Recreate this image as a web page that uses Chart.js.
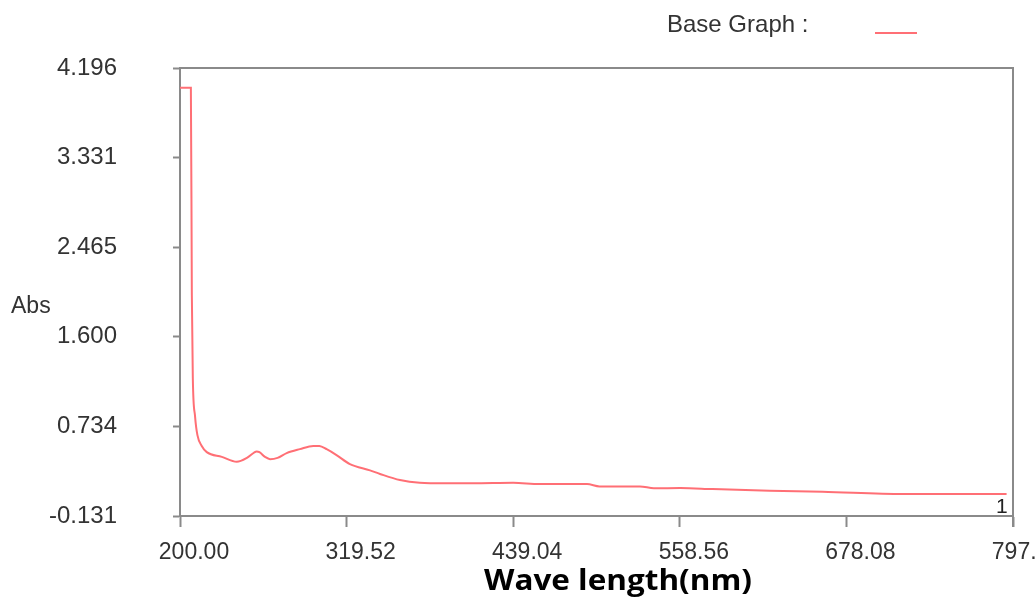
<!DOCTYPE html>
<html>
<head>
<meta charset="utf-8">
<script src="https://cdn.jsdelivr.net/npm/chart.js@4/dist/chart.umd.min.js"></script>
<style>
html,body{margin:0;padding:0;background:#fff;overflow:hidden;}
#wrap{width:1036px;height:603px;position:relative;}
</style>
</head>
<body>
<div id="wrap"><canvas id="c" width="1036" height="603"></canvas></div>
<script>
// Wavelength (nm) and absorbance
const wavelengths = [200, 207.8, 208.5, 209.2, 210.8, 212.5, 215.6, 219.2, 230, 240.7, 248, 253, 255, 257, 261, 264.6, 270, 276.5, 286, 295.6, 300, 305.2, 312, 321.9, 336.3, 343.5, 357.8, 372, 390, 410, 439, 458, 492, 501, 530, 540, 559, 582, 623, 661, 719, 793];
const absorbance  = [4.005, 4.005, 2.0, 1.2, 0.832, 0.65, 0.546, 0.486, 0.44, 0.392, 0.43, 0.48, 0.492, 0.485, 0.44, 0.418, 0.43, 0.476, 0.515, 0.546, 0.545, 0.514, 0.46, 0.37, 0.31, 0.275, 0.216, 0.19, 0.185, 0.185, 0.19, 0.177, 0.177, 0.155, 0.155, 0.137, 0.139, 0.129, 0.113, 0.103, 0.081, 0.081];
const xTickValues = [200, 319.52, 439.04, 558.56, 678.08, 797.6];
const xTickLabels = ['200.00', '319.52', '439.04', '558.56', '678.08', '797.60'];
const yTickValues = [-0.131, 0.734, 1.600, 2.465, 3.331, 4.196];
const yTickLabels = ['-0.131', '0.734', '1.600', '2.465', '3.331', '4.196'];
const seriesName = 'Base Graph :';
const xTitle = 'Wave length(nm)';
const yTitle = 'Abs';

const lineColor = '#ff6f75';
const axisColor = '#8a8a8a';
const textColor = '#333333';

const points = wavelengths.map((w, i) => ({x: w, y: absorbance[i]}));

const decor = {
  id: 'decor',
  afterDraw(chart) {
    const ctx = chart.ctx;
    const a = chart.chartArea;
    ctx.save();
    // top and right frame
    ctx.strokeStyle = axisColor;
    ctx.lineWidth = 2;
    ctx.beginPath();
    ctx.moveTo(a.left, a.top);
    ctx.lineTo(a.right, a.top);
    ctx.lineTo(a.right, a.bottom + 11);
    ctx.stroke();
    // legend
    ctx.fillStyle = textColor;
    ctx.font = '24px "Liberation Sans", Arial, sans-serif';
    ctx.textBaseline = 'middle';
    ctx.textAlign = 'left';
    ctx.fillText(seriesName, 667, 25);
    ctx.strokeStyle = lineColor;
    ctx.lineWidth = 2;
    ctx.beginPath();
    ctx.moveTo(875, 33);
    ctx.lineTo(917, 33);
    ctx.stroke();
    // y title
    ctx.fillStyle = textColor;
    ctx.font = '23px "Liberation Sans", Arial, sans-serif';
    ctx.fillText(yTitle, 11, 307);
    // x title (slightly widened like the reference)
    ctx.fillStyle = '#000';
    ctx.font = 'bold 28px "Open Sans", "DejaVu Sans", sans-serif';
    ctx.textAlign = 'center';
    const w = ctx.measureText(xTitle).width;
    const sx = 268 / w;
    ctx.translate(618, 582);
    ctx.scale(sx, 1);
    ctx.fillText(xTitle, 0, 0);
    ctx.setTransform(1, 0, 0, 1, 0, 0);
    // curve index label
    ctx.font = '21px "Liberation Sans", Arial, sans-serif';
    ctx.fillStyle = '#222';
    ctx.textAlign = 'left';
    ctx.fillText('1', 996, 507);
    ctx.restore();
  }
};

new Chart(document.getElementById('c'), {
  type: 'line',
  data: {
    datasets: [{
      label: seriesName,
      data: points,
      borderColor: lineColor,
      borderWidth: 2,
      pointRadius: 0,
      cubicInterpolationMode: 'monotone',
      fill: false
    }]
  },
  options: {
    responsive: false,
    animation: false,
    layout: {padding: {left: 0, top: 68, right: 23, bottom: 0}},
    plugins: {legend: {display: false}, tooltip: {enabled: false}},
    scales: {
      x: {
        type: 'linear',
        min: 200,
        max: 797.6,
        afterBuildTicks(s) { s.ticks = xTickValues.map(v => ({value: v})); },
        afterFit(s) { s.height = 87; s.paddingLeft = 0; s.paddingRight = 0; },
        ticks: {
          autoSkip: false,
          maxRotation: 0,
          padding: 12,
          labelOffset: 14,
          color: textColor,
          font: {family: '"Liberation Sans", Arial, sans-serif', size: 23},
          callback(v, i) { return xTickLabels[i]; }
        },
        grid: {drawOnChartArea: false, tickLength: 11, tickWidth: 2, tickColor: axisColor},
        border: {color: axisColor, width: 2}
      },
      y: {
        type: 'linear',
        min: -0.131,
        max: 4.196,
        afterBuildTicks(s) { s.ticks = yTickValues.map(v => ({value: v})); },
        afterFit(s) { s.width = 180; s.paddingTop = 0; s.paddingBottom = 0; },
        ticks: {
          autoSkip: false,
          padding: 56,
          color: textColor,
          font: {family: '"Liberation Sans", Arial, sans-serif', size: 24},
          callback(v, i) { return yTickLabels[i]; }
        },
        grid: {drawOnChartArea: false, tickLength: 7, tickWidth: 2, tickColor: axisColor},
        border: {color: axisColor, width: 2}
      }
    }
  },
  plugins: [decor]
});
</script>
</body>
</html>
